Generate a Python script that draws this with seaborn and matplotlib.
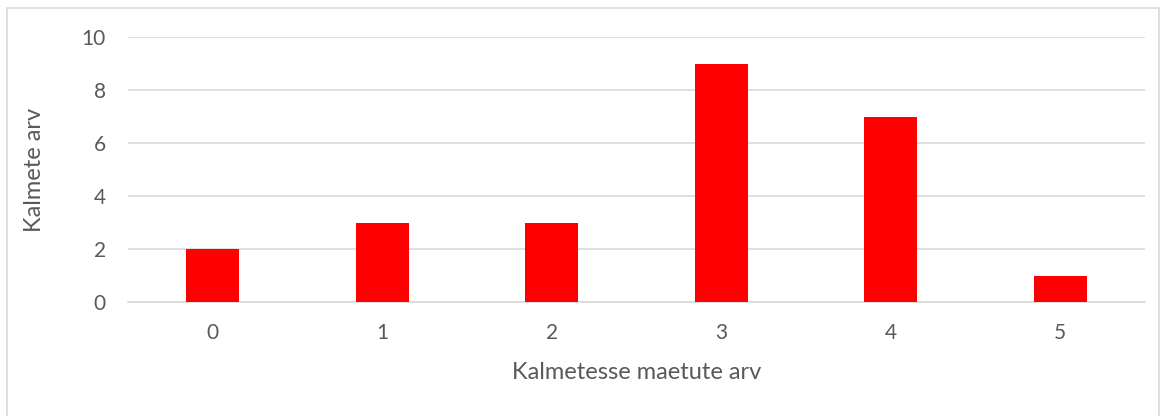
import matplotlib
matplotlib.use("Agg")
import matplotlib.pyplot as plt
from matplotlib.patches import Rectangle
import seaborn as sns
import pandas as pd

categories = ["0", "1", "2", "3", "4", "5"]
counts = [2, 3, 3, 9, 7, 1]
y_ticks = [0, 2, 4, 6, 8, 10]

x_label = "Kalmetesse maetute arv"
y_label = "Kalmete arv"

text_color = "#595959"
grid_color = "#D9D9D9"

sns.set_style("white")
plt.rcParams["font.family"] = ["Lato", "DejaVu Sans"]

df = pd.DataFrame({"cat": categories, "count": counts})

fig = plt.figure(figsize=(11.67, 4.16), dpi=100)
ax = fig.add_axes([128 / 1167, 1 - 302 / 416, (1145 - 128) / 1167, (302 - 37) / 416])

sns.barplot(data=df, x="cat", y="count", color="#FF0000", width=0.31,
            saturation=1, linewidth=0, ax=ax, zorder=3)

ax.set_ylim(0, 10)
ax.set_yticks(y_ticks)
ax.set_xlim(-0.5, len(categories) - 0.5)
ax.yaxis.grid(True, color=grid_color, linewidth=1.2, zorder=0)
ax.set_axisbelow(True)
for side in ["top", "right", "left"]:
    ax.spines[side].set_visible(False)
ax.spines["bottom"].set_color(grid_color)
ax.spines["bottom"].set_linewidth(1.2)
ax.tick_params(axis="both", length=0, labelsize=15, colors=text_color)
ax.tick_params(axis="y", pad=16)
ax.tick_params(axis="x", pad=15)

ax.set_xlabel(x_label, fontsize=17, color=text_color, labelpad=14)
ax.set_ylabel(y_label, fontsize=17, color=text_color, labelpad=26)

# chart border like the spreadsheet frame
fig.patches.append(Rectangle((7 / 1167, -0.01), 1152 / 1167, 1 - 8 / 416 + 0.01,
                             transform=fig.transFigure, fill=False,
                             edgecolor=grid_color, linewidth=1.2))

fig.savefig("out.png", dpi=100)
